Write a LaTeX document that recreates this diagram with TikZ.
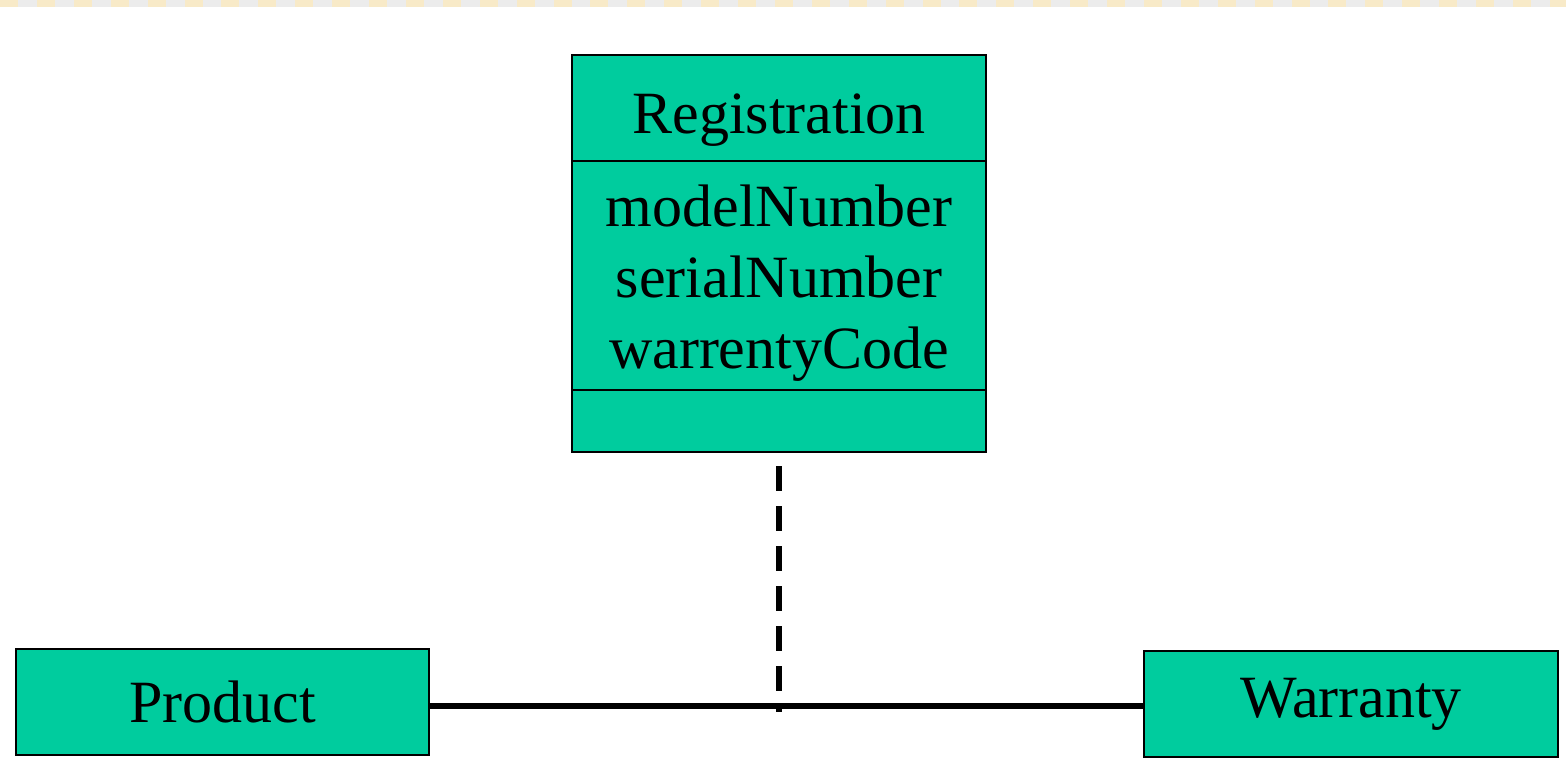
\documentclass[tikz,border=0pt]{standalone}
\usepackage{fontspec}
\setmainfont{Liberation Serif}
\usetikzlibrary{positioning}
\definecolor{classgreen}{RGB}{0,204,158}
\definecolor{stripbeige}{RGB}{248,234,200}
\definecolor{stripgrey}{RGB}{236,236,236}
\newcommand\umlfont{\fontsize{30}{35.5}\selectfont}

\begin{document}
\begin{tikzpicture}[x=0.5pt, y=-0.5pt,
  classbox/.style = {draw, line width=0.9pt, fill=classgreen, rectangle, inner sep=0pt,
                     outer sep=0pt, minimum width=207pt, font=\umlfont, align=center},
  assoc/.style = {line width=2.6pt},
  linkdash/.style = {line width=3pt, dash pattern=on 12.5pt off 7.5pt}]
\useasboundingbox (0,0) rectangle (1566,777);
\fill[white] (0,0) rectangle (1566,777);
% header strip
\fill[stripgrey] (0,0) rectangle (1566,7);
\foreach \i in {0,...,42}
  \fill[stripbeige] ({36.9*\i},0) rectangle ({36.9*\i+18},7);
% association class
\node[classbox, minimum height=53pt, text height=25pt, text depth=0pt] (regname) at (779,108) {Registration};
\node[classbox, minimum height=114.5pt, text height=99.5pt, text depth=6.5pt, below=0pt of regname] (regattr) {modelNumber\\serialNumber\\warrentyCode};
\node[classbox, minimum height=31pt, below=0pt of regattr] (regops) {};
% classes
\node[classbox, minimum width=206.5pt, minimum height=53pt] (prod) at (222.5,702) {Product};
\node[classbox, minimum width=207pt, minimum height=53pt] (warr) at (1351,704) {Warranty};
\coordinate (joint) at (779,706);
\draw[assoc] (prod.east |- joint) -- (warr.west |- joint);
\draw[linkdash, shorten <=7pt, shorten >=-3pt] (regops.south) -- (joint);
\end{tikzpicture}
\end{document}
